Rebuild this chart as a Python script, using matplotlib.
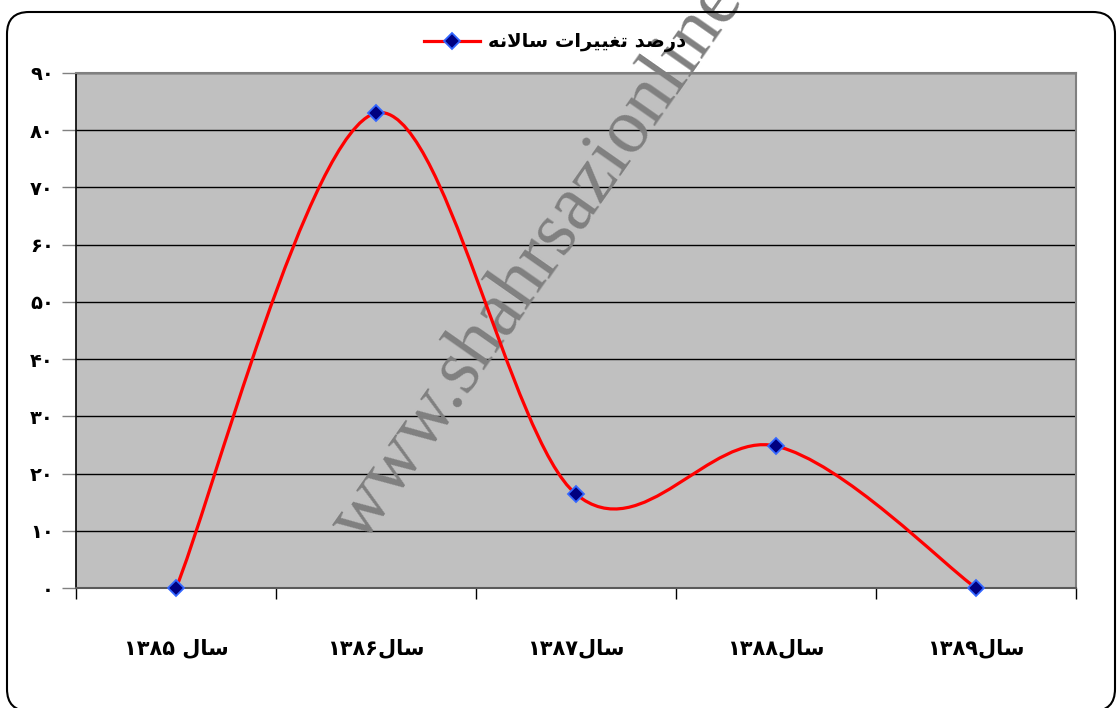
"""Yearly change percentage, smooth line chart (Persian labels)."""
import numpy as np
import matplotlib
matplotlib.use("Agg")
import matplotlib.pyplot as plt
from matplotlib.path import Path
from matplotlib.patches import PathPatch, FancyBboxPatch
from matplotlib.lines import Line2D

plt.rcParams["font.family"] = ["DejaVu Sans"]

# ---- data ----
FA = str.maketrans("0123456789", "۰۱۲۳۴۵۶۷۸۹")
SAL = "\uFEDD\uFE8E\uFEB3"                     # "سال" in presentation forms, visual order
years = ["۱۳۸۵", "۱۳۸۶", "۱۳۸۷", "۱۳۸۸", "۱۳۸۹"]
categories = [years[0] + " " + SAL] + [y + SAL for y in years[1:]]
values = [0.0, 83.0, 16.4, 24.8, 0.0]
y_ticks = list(range(0, 91, 10))
# "درصد تغییرات سالانه" shaped, visual order
series_name = ("\uFEEA\uFEE7\uFEFB\uFE8E\uFEB3" + " "
               + "\uFE95\uFE8D\uFEAE\uFEF4\uFEF4\uFED0\uFE97" + " "
               + "\uFEAA\uFEBB\uFEAD\uFEA9")
watermark = "www.shahrsazionline"

RED = "#FF0000"
NAVY = "#000080"
EDGE = "#3366FF"
PLOT_BG = "#C0C0C0"
BORDER = "#808080"

fig = plt.figure(figsize=(11.17, 7.08), dpi=100)
ax = fig.add_axes([76 / 1117, 120 / 708, 1000 / 1117, 515 / 708])
ax.set_facecolor(PLOT_BG)

x = np.arange(len(values))
y = np.array(values)

# smooth curve as cubic Bezier segments (Excel style)
px = np.concatenate([[x[0]], x, [x[-1]]]).astype(float)
py = np.concatenate([[y[0]], y, [y[-1]]])
verts = [(x[0], y[0])]
codes = [Path.MOVETO]
for i in range(1, len(px) - 2):
    c1 = (px[i] + (px[i + 1] - px[i - 1]) / 6, py[i] + (py[i + 1] - py[i - 1]) / 6)
    c2 = (px[i + 1] - (px[i + 2] - px[i]) / 6, py[i + 1] - (py[i + 2] - py[i]) / 6)
    verts += [c1, c2, (px[i + 1], py[i + 1])]
    codes += [Path.CURVE4] * 3
ax.add_patch(PathPatch(Path(verts, codes), fill=False, edgecolor=RED, lw=2.3,
                       zorder=3, capstyle="round", joinstyle="round"))
ax.plot(x, y, ls="none", marker="D", ms=8, mfc=NAVY, mec=EDGE, mew=1.3,
        zorder=4, clip_on=False)

ax.set_xlim(-0.5, len(values) - 0.5)
ax.set_ylim(0, 90)

# y axis
ax.set_yticks(y_ticks)
ax.set_yticklabels([str(v).translate(FA) for v in y_ticks],
                   fontsize=14, fontweight="bold")
ax.tick_params(axis="y", length=10, width=1, color=BORDER, pad=6)
ax.yaxis.grid(True, color="black", lw=1)
ax.set_axisbelow(True)

# x axis: ticks between categories, labels at centres
ax.set_xticks(np.arange(-0.5, len(values), 1.0))
ax.set_xticklabels([])
ax.tick_params(axis="x", which="major", length=8, width=1, color="black", direction="out")
ax.set_xticks(x, minor=True)
ax.set_xticklabels(categories, minor=True, fontsize=15, fontweight="bold")
ax.tick_params(axis="x", which="minor", length=0, pad=36)

for side in ["top", "right", "bottom"]:
    ax.spines[side].set_color(BORDER)
    ax.spines[side].set_linewidth(1.5)
ax.spines["bottom"].set_color("#5A5A5A")
ax.spines["left"].set_color("black")
ax.spines["left"].set_linewidth(1.2)

# legend
handle = Line2D([], [], color=RED, lw=2.3, marker="D", ms=8, mfc=NAVY, mec=EDGE, mew=1.3)
fig.legend([handle], [series_name], loc="center", bbox_to_anchor=(0.497, 0.94),
           frameon=False, handlelength=2.9, handletextpad=0.4,
           prop={"size": 14, "weight": "bold"})

# watermark
ax.text(362 / 1117, (708 - 545) / 708, watermark, transform=fig.transFigure,
        rotation=55, rotation_mode="anchor", ha="left", va="baseline",
        family="Liberation Serif", fontsize=56, color="#808080",
        zorder=2.5, clip_on=False)

# rounded outer border
fig.patches.append(FancyBboxPatch((0.07, -0.03), 11.08, 6.99,
                                  boxstyle="round,pad=0,rounding_size=0.22",
                                  transform=fig.dpi_scale_trans, fill=False,
                                  edgecolor="black", lw=1.5))

fig.savefig("out.png", dpi=100)
